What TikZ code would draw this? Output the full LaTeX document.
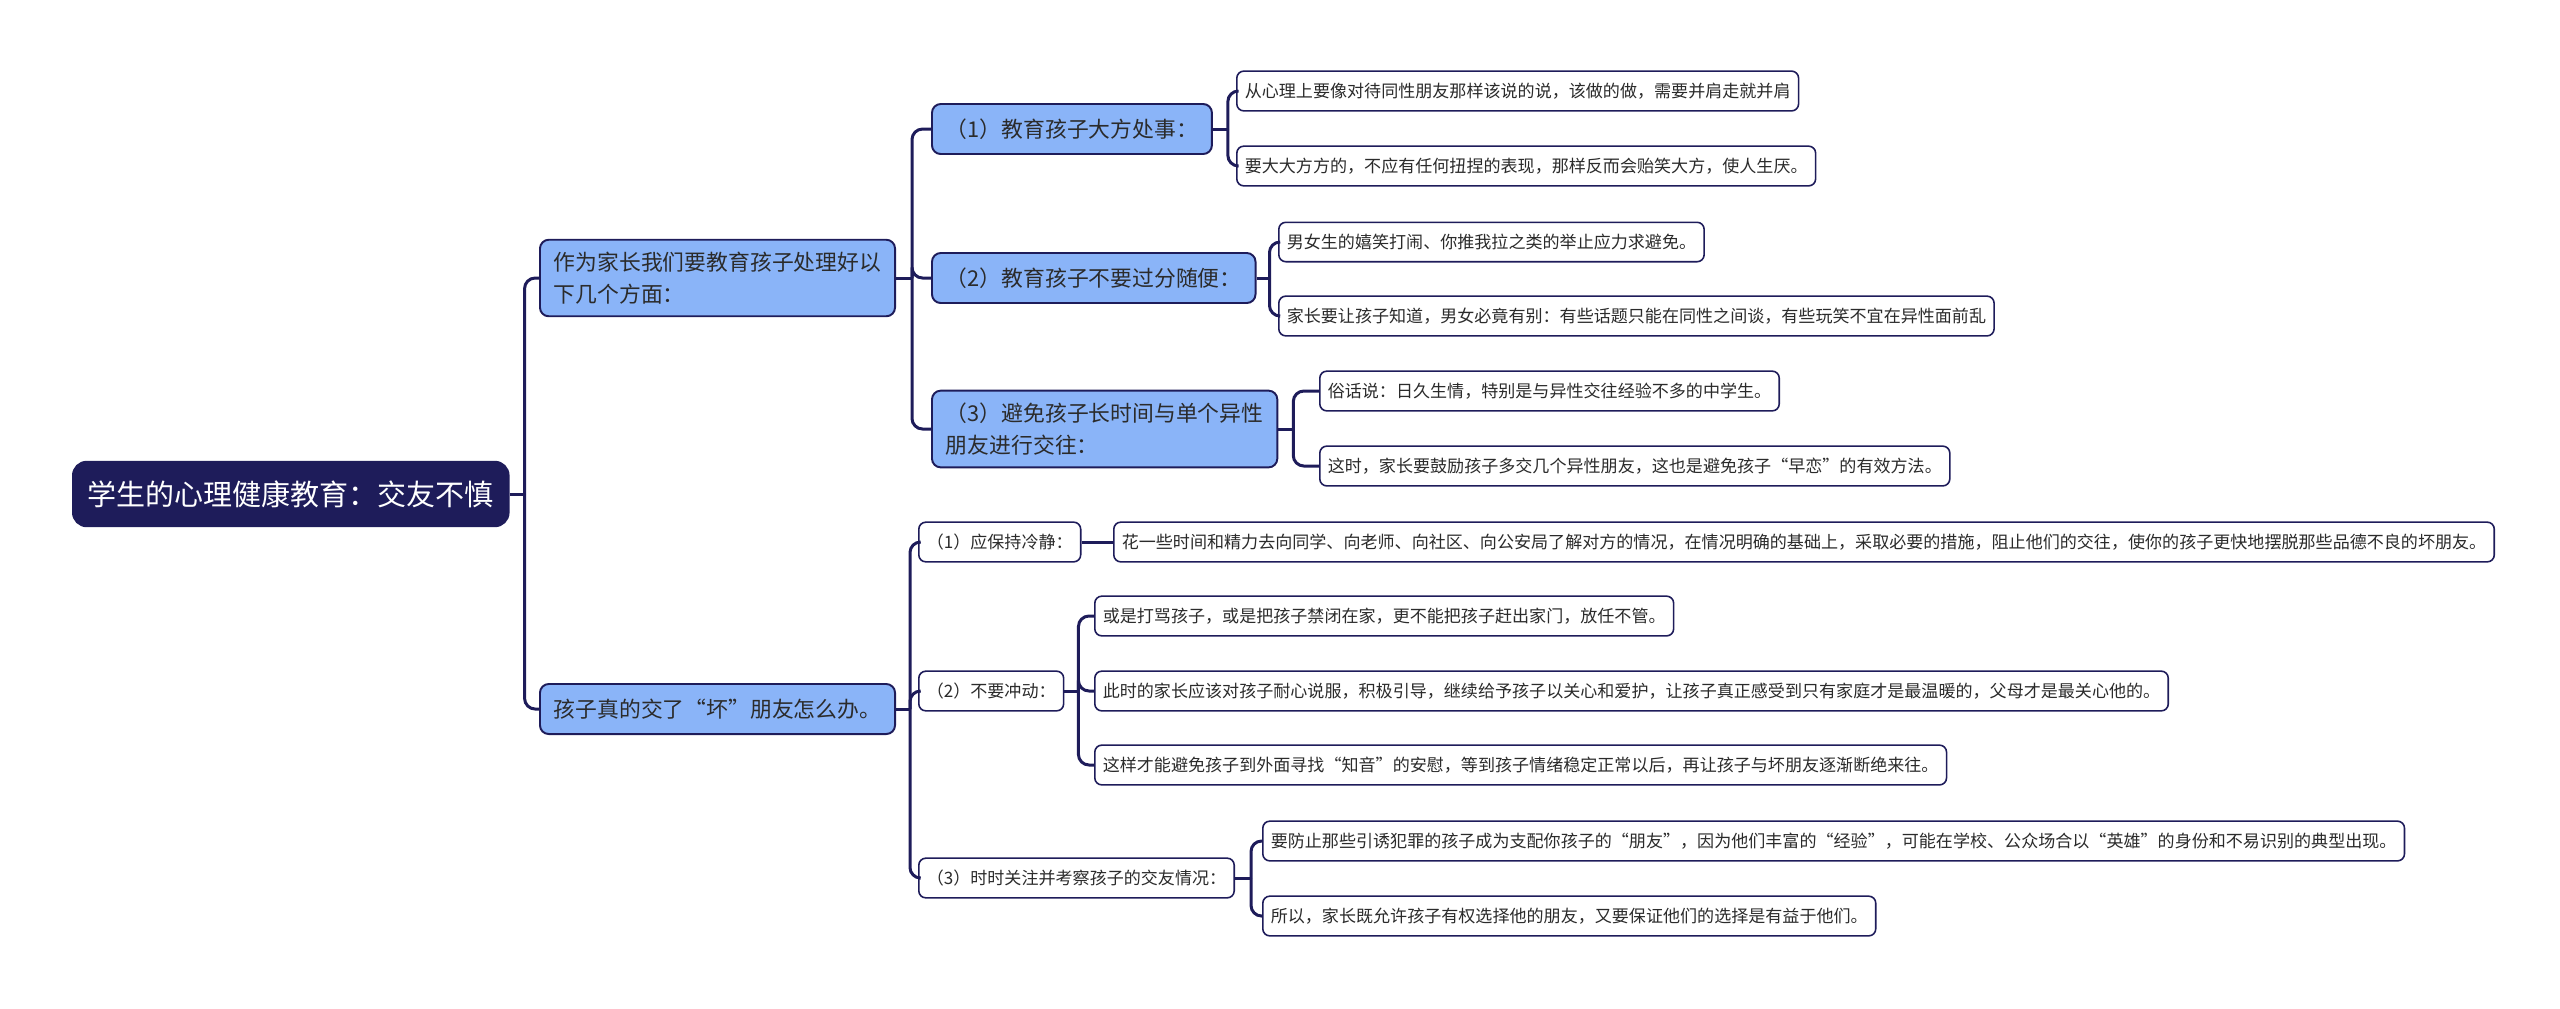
\documentclass[tikz,border=0pt]{standalone}
\usepackage{fontspec}
\newfontfamily\cjk{Noto Sans CJK SC}
\usepackage{tikz}
\definecolor{navy}{HTML}{1E1C5A}
\definecolor{topicblue}{HTML}{8AB4F8}
\definecolor{inkgray}{HTML}{2B2B2B}
\tikzset{
  theme/.style={fill=navy, draw=navy, rounded corners=4pt, text=white, anchor=west,
      font=\cjk\fontsize{8.25}{10}\selectfont, inner xsep=0.15cm, minimum height=0.65cm},
  topic/.style={fill=topicblue, draw=navy, line width=0.55pt, rounded corners=2.5pt, text=inkgray, anchor=west,
      font=\cjk\fontsize{6.2}{9}\selectfont, align=left, inner xsep=0.14cm, inner ysep=3.5pt, minimum height=0.5cm},
  leaf/.style={fill=white, draw=navy, line width=0.45pt, rounded corners=2pt, text=inkgray, anchor=west,
      font=\cjk\fontsize{4.85}{6}\selectfont, inner xsep=0.08cm, minimum height=0.37cm},
  link/.style={draw=navy, line width=0.85pt},
  elbow/.style={link, rounded corners=3pt},
}

\begin{document}
\begin{tikzpicture}[x=0.01cm, y=-0.01cm]
  \useasboundingbox (0,0) rectangle (2560,1008);

  \node[theme] (main) at (72,494) {学生的心理健康教育：交友不慎};
  \node[topic] (parents) at (539,278) {作为家长我们要教育孩子处理好以\\下几个方面：};
  \node[topic] (badfriend) at (539,709) {孩子真的交了“坏”朋友怎么办。};

  % parents branch
  \node[topic] (generous) at (931,129) {（1）教育孩子大方处事：};
  \node[topic] (casual) at (931,278) {（2）教育孩子不要过分随便：};
  \node[topic] (avoid) at (931,429) {（3）避免孩子长时间与单个异性\\朋友进行交往：};

  \node[leaf] (gen1) at (1236,91) {从心理上要像对待同性朋友那样该说的说，该做的做，需要并肩走就并肩};
  \node[leaf] (gen2) at (1236,166) {要大大方方的，不应有任何扭捏的表现，那样反而会贻笑大方，使人生厌。};
  \node[leaf] (cas1) at (1278,242) {男女生的嬉笑打闹、你推我拉之类的举止应力求避免。};
  \node[leaf] (cas2) at (1278,316) {家长要让孩子知道，男女必竟有别：有些话题只能在同性之间谈，有些玩笑不宜在异性面前乱};
  \node[leaf] (avo1) at (1319,391) {俗话说：日久生情，特别是与异性交往经验不多的中学生。};
  \node[leaf] (avo2) at (1319,466) {这时，家长要鼓励孩子多交几个异性朋友，这也是避免孩子“早恋”的有效方法。};

  % bad friend branch
  \node[leaf] (calm) at (918,542) {（1）应保持冷静：};
  \node[leaf] (rash) at (918,691) {（2）不要冲动：};
  \node[leaf] (watch) at (918,878) {（3）时时关注并考察孩子的交友情况：};

  \node[leaf] (calm1) at (1113,542) {花一些时间和精力去向同学、向老师、向社区、向公安局了解对方的情况，在情况明确的基础上，采取必要的措施，阻止他们的交往，使你的孩子更快地摆脱那些品德不良的坏朋友。};
  \node[leaf] (rash1) at (1094,616) {或是打骂孩子，或是把孩子禁闭在家，更不能把孩子赶出家门，放任不管。};
  \node[leaf] (rash2) at (1094,691) {此时的家长应该对孩子耐心说服，积极引导，继续给予孩子以关心和爱护，让孩子真正感受到只有家庭才是最温暖的，父母才是最关心他的。};
  \node[leaf] (rash3) at (1094,765) {这样才能避免孩子到外面寻找“知音”的安慰，等到孩子情绪稳定正常以后，再让孩子与坏朋友逐渐断绝来往。};
  \node[leaf] (watch1) at (1262,841) {要防止那些引诱犯罪的孩子成为支配你孩子的“朋友”，因为他们丰富的“经验”，可能在学校、公众场合以“英雄”的身份和不易识别的典型出现。};
  \node[leaf] (watch2) at (1262,916) {所以，家长既允许孩子有权选择他的朋友，又要保证他们的选择是有益于他们。};

  % connectors
  \draw[link] (main.east) -- ++(15,0) coordinate (s0);
  \foreach \c in {parents,badfriend}
    \draw[elbow] (s0) |- (\c.west);
  \draw[link] (parents.east) -- ++(16,0) coordinate (s1);
  \foreach \c in {generous,casual,avoid}
    \draw[elbow] (s1) |- (\c.west);
  \draw[link] (generous.east) -- ++(15,0) coordinate (s2);
  \foreach \c in {gen1,gen2}
    \draw[elbow] (s2) |- (\c.west);
  \draw[link] (casual.east) -- ++(13,0) coordinate (s3);
  \foreach \c in {cas1,cas2}
    \draw[elbow] (s3) |- (\c.west);
  \draw[link] (avoid.east) -- ++(15,0) coordinate (s4);
  \foreach \c in {avo1,avo2}
    \draw[elbow] (s4) |- (\c.west);
  \draw[link] (badfriend.east) -- ++(14,0) coordinate (s5);
  \foreach \c in {calm,rash,watch}
    \draw[elbow] (s5) |- (\c.west);
  \draw[link] (calm.east) -- (calm1.west);
  \draw[link] (rash.east) -- ++(14,0) coordinate (s6);
  \foreach \c in {rash1,rash2,rash3}
    \draw[elbow] (s6) |- (\c.west);
  \draw[link] (watch.east) -- ++(16,0) coordinate (s7);
  \foreach \c in {watch1,watch2}
    \draw[elbow] (s7) |- (\c.west);

\end{tikzpicture}
\end{document}
